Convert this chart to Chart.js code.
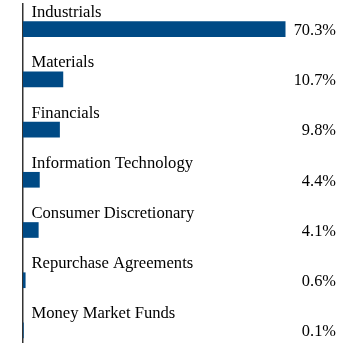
<!DOCTYPE html>
<html>
<head>
<meta charset="utf-8">
<script src="https://cdn.jsdelivr.net/npm/chart.js@4/dist/chart.umd.min.js"></script>
<style>
  html, body { margin: 0; padding: 0; background: #fff; }
  #wrap { position: relative; width: 360px; height: 346px; }
</style>
</head>
<body>
<div id="wrap"><canvas id="sector-chart"></canvas></div>
<script>
// Dados do gráfico
const categories = ['Industrials', 'Materials', 'Financials', 'Information Technology',
    'Consumer Discretionary', 'Repurchase Agreements', 'Money Market Funds'];
const weights = [70.3, 10.7, 9.8, 4.4, 4.1, 0.6, 0.1];
const valueLabels = ['70.3%', '10.7%', '9.8%', '4.4%', '4.1%', '0.6%', '0.1%'];

const FONT = "'Liberation Serif', 'Times New Roman', serif";

// Rótulos acima das barras e valores à direita
const labelsPlugin = {
    id: 'sectorLabels',
    afterDatasetsDraw(chart) {
        const ctx = chart.ctx;
        const bars = chart.getDatasetMeta(0).data;
        ctx.save();
        ctx.fillStyle = '#000';
        bars.forEach(function(bar, i) {
            ctx.font = '16.6px ' + FONT;
            ctx.textAlign = 'left';
            ctx.textBaseline = 'alphabetic';
            ctx.fillText(categories[i], chart.chartArea.left + 8.5, bar.y - 12);

            ctx.font = '16.4px ' + FONT;
            ctx.textAlign = 'right';
            ctx.textBaseline = 'middle';
            ctx.fillText(valueLabels[i], 336, bar.y + 1.5);
        });
        ctx.restore();
    }
};

new Chart(document.getElementById('sector-chart'), {
    type: 'bar',
    data: {
        datasets: [{
            data: weights.map(function(v, i) { return { x: v, y: i }; }),
            backgroundColor: '#004a85',
            borderWidth: 0,
            barThickness: 15
        }]
    },
    options: {
        indexAxis: 'y',
        responsive: true,
        maintainAspectRatio: false,
        animation: false,
        layout: { padding: { left: 23, right: 20, top: 4, bottom: 4 } },
        plugins: {
            legend: { display: false },
            tooltip: { enabled: false }
        },
        scales: {
            x: {
                type: 'linear',
                display: false,
                min: 0,
                max: 85
            },
            y: {
                type: 'linear',
                reverse: true,
                offset: false,
                min: -0.5,
                max: 6.23,
                ticks: { display: false },
                grid: { display: false, drawTicks: false, offset: false },
                border: { display: true, color: '#333', width: 1.5 }
            }
        }
    },
    plugins: [labelsPlugin]
});
</script>
</body>
</html>
